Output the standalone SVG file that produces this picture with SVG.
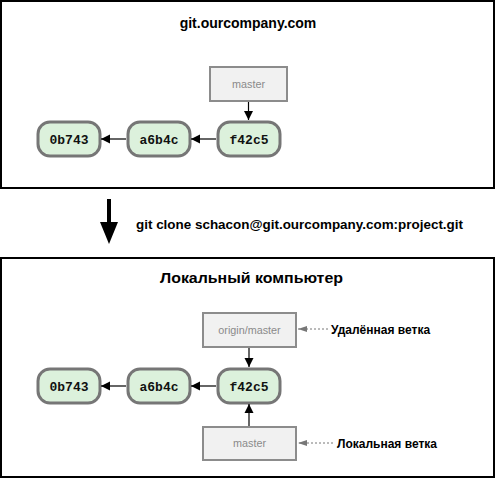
<svg xmlns="http://www.w3.org/2000/svg" width="497" height="479" viewBox="0 0 497 479">
<style>
.frame{fill:#fff;stroke:#000;stroke-width:2}
.commit rect{fill:#dcf1dc;stroke:#767676;stroke-width:3}
.commit text{font-family:"Liberation Mono","DejaVu Sans Mono",monospace;font-weight:bold;font-size:13px;fill:#111;text-anchor:middle}
.branch rect{fill:#f1f1f1;stroke:#8c8c8c;stroke-width:2}
.branch text{font-family:"Liberation Sans",Arial,sans-serif;font-size:10.8px;fill:#8a8a8a;text-anchor:middle}
.title{font-family:"Liberation Sans",Arial,sans-serif;font-weight:bold;font-size:14px;fill:#000}
.label{font-family:"Liberation Sans",Arial,sans-serif;font-weight:bold;font-size:12px;fill:#000}
.conn{stroke:#000;stroke-width:1.2;fill:none}
.dash{stroke:#777;stroke-width:1;stroke-dasharray:2,2;fill:none}
</style>
<defs>
<marker id="ah" markerWidth="10" markerHeight="10" refX="9" refY="5" orient="auto" markerUnits="userSpaceOnUse">
<path d="M0,0.5 L9,5 L0,9.5 Z" fill="#000"/>
</marker>
<marker id="ahg" markerWidth="10" markerHeight="8" refX="9" refY="4" orient="auto" markerUnits="userSpaceOnUse">
<path d="M0,1 L9,4 L0,7 Z" fill="#777"/>
</marker>
</defs>
<rect width="497" height="479" fill="#fff"/>
<g id="server">
<rect class="frame" x="1" y="1" width="493" height="187"/>
<text class="title" x="248" y="28" text-anchor="middle">git.ourcompany.com</text>
</g>
<g id="local">
<rect class="frame" x="1" y="258" width="493" height="219"/>
<text class="title" x="160" y="283" font-size="15" textLength="183" lengthAdjust="spacingAndGlyphs">Локальный компьютер</text>
</g>
<g id="clone">
<rect x="107" y="199" width="4" height="25" fill="#000"/>
<path d="M100,222 L118,222 L109,244 Z" fill="#000"/>
<text class="label" x="136" y="229" font-size="13" textLength="327" lengthAdjust="spacingAndGlyphs">git clone schacon@git.ourcompany.com:project.git</text>
</g>
<g id="s-0b743" class="commit"><rect x="38" y="122" width="62" height="34" rx="12"/><text x="69" y="144">0b743</text></g>
<g id="s-a6b4c" class="commit"><rect x="128" y="122" width="62" height="34" rx="12"/><text x="159" y="144">a6b4c</text></g>
<g id="s-f42c5" class="commit"><rect x="218" y="122" width="62" height="34" rx="12"/><text x="249" y="144">f42c5</text></g>
<g id="s-master" class="branch"><rect x="210" y="67" width="77" height="34"/><text x="248.5" y="88">master</text></g>
<g id="l-0b743" class="commit"><rect x="38" y="369" width="62" height="34" rx="12"/><text x="69" y="391">0b743</text></g>
<g id="l-a6b4c" class="commit"><rect x="128" y="369" width="62" height="34" rx="12"/><text x="159" y="391">a6b4c</text></g>
<g id="l-f42c5" class="commit"><rect x="218" y="369" width="62" height="34" rx="12"/><text x="249" y="391">f42c5</text></g>
<g id="l-origin" class="branch"><rect x="203" y="313" width="93" height="34"/><text x="249.5" y="334">origin/master</text></g>
<g id="l-master" class="branch"><rect x="203" y="427" width="93" height="33"/><text x="249.5" y="447">master</text></g>
<g id="l-remote-label"><text class="label" x="331" y="334">Удалённая ветка</text></g>
<g id="l-local-label"><text class="label" x="337" y="448">Локальная ветка</text></g>
<g id="connectors">
<line class="conn" x1="216" y1="139" x2="191" y2="139" marker-end="url(#ah)"/>
<line class="conn" x1="126" y1="139" x2="101" y2="139" marker-end="url(#ah)"/>
<line class="conn" x1="248.5" y1="102" x2="248.5" y2="120" marker-end="url(#ah)"/>
<line class="conn" x1="216" y1="386" x2="191" y2="386" marker-end="url(#ah)"/>
<line class="conn" x1="126" y1="386" x2="101" y2="386" marker-end="url(#ah)"/>
<line class="conn" x1="249" y1="348" x2="249" y2="367" marker-end="url(#ah)"/>
<line class="conn" x1="249" y1="426" x2="249" y2="404" marker-end="url(#ah)"/>
<line class="dash" x1="328" y1="329" x2="298" y2="329" marker-end="url(#ahg)"/>
<line class="dash" x1="333" y1="443" x2="298" y2="443" marker-end="url(#ahg)"/>
</g>
</svg>
